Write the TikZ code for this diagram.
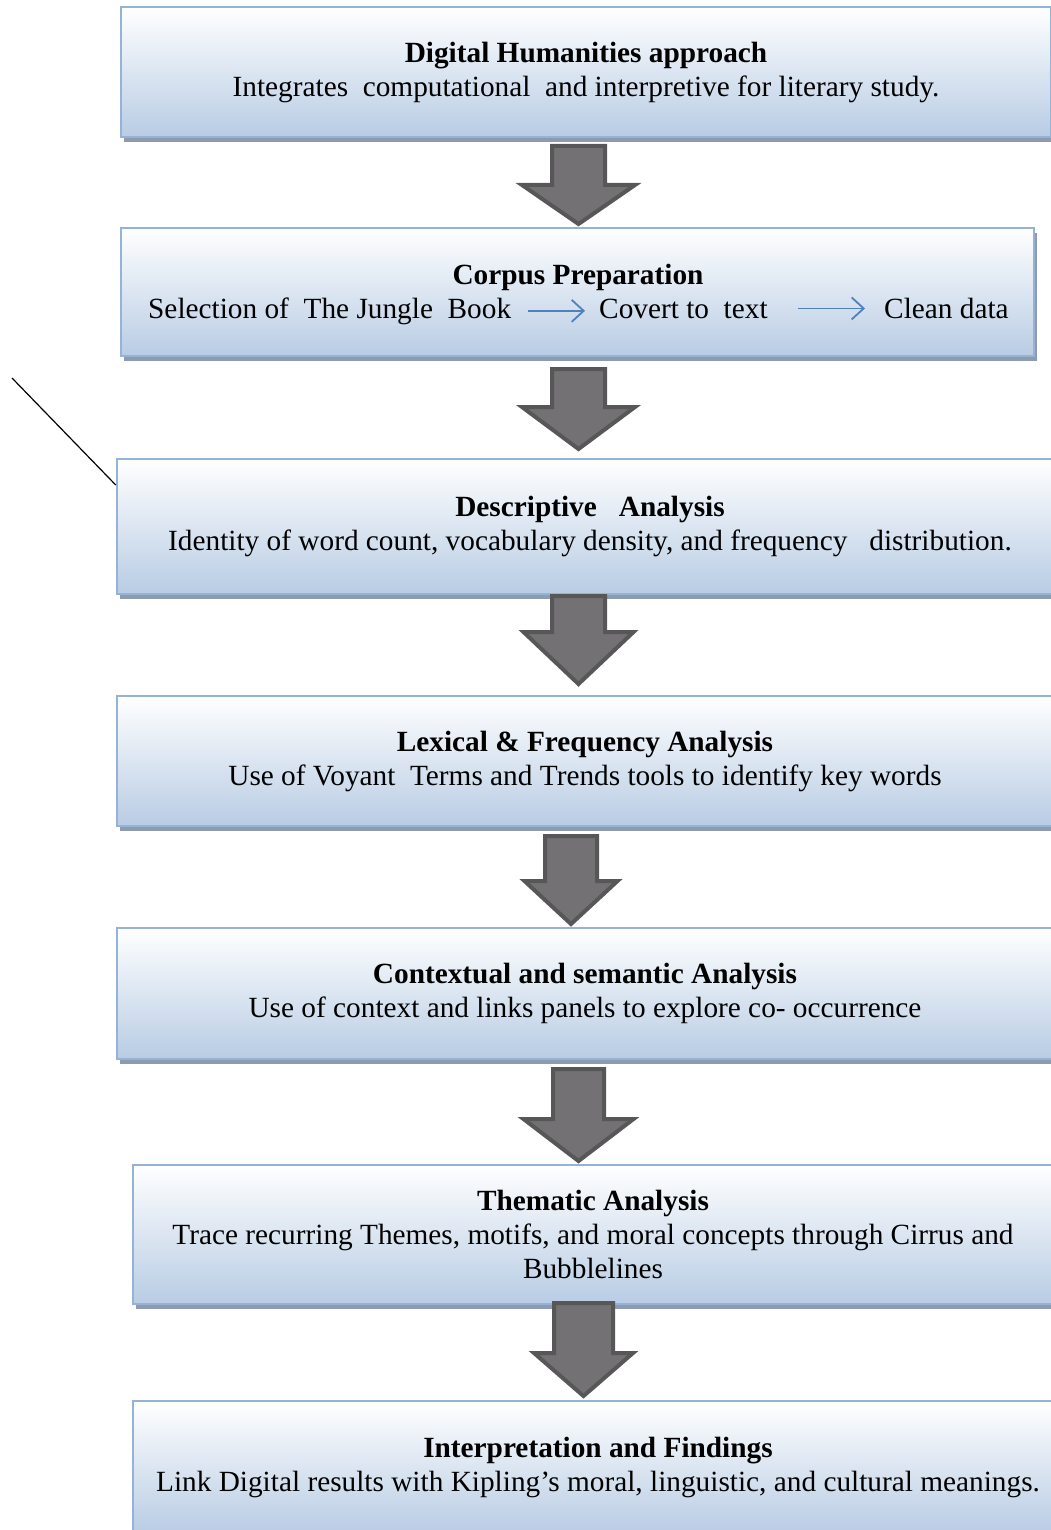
\documentclass[tikz,border=0pt]{standalone}
\usepackage{fontspec}
\setmainfont{Liberation Serif}
\usetikzlibrary{shadows,arrows.meta}

\definecolor{boxblue}{HTML}{B8CCE4}
\definecolor{boxedge}{HTML}{95B3D7}
\definecolor{shadowgray}{HTML}{8E9AAD}
\definecolor{arrowfill}{HTML}{747175}
\definecolor{arrowedge}{HTML}{575757}
\definecolor{linkblue}{HTML}{4F81BD}

% block arrow: centre x, top y, head y, tip y, half shaft, half head
\newcommand{\flowarrow}[6]{%
  \draw[bigarrow] (#1-#5,#2) -- (#1+#5,#2) -- (#1+#5,#3) -- (#1+#6,#3)
    -- (#1,#4) -- (#1-#6,#3) -- (#1-#5,#3) -- cycle;}

\begin{document}
\begin{tikzpicture}[x=1pt, y=-1pt,
    stepbox/.style={rectangle, draw=boxedge, line width=2.5pt,
      top color=white, bottom color=boxblue, inner sep=0pt, align=center,
      font=\fontsize{29.3}{34}\selectfont,
      drop shadow={shadow xshift=3pt, shadow yshift=-5pt, fill=shadowgray, opacity=1}},
    plain/.style={inner sep=0pt, font=\fontsize{29.3}{34}\selectfont},
    bigarrow/.style={draw=arrowedge, fill=arrowfill, line width=4pt, line join=miter},
    linkarrow/.style={draw=linkblue, line width=1.8pt, -{Straight Barb[length=12pt, width=22pt]}}]

    \useasboundingbox (0,0) rectangle (1051,1530);
    \clip (0,0) rectangle (1051,1530);

    \node[stepbox, minimum width=930pt, minimum height=130pt] (dh) at (586,72)
        {\textbf{Digital Humanities approach}\\
         Integrates\ \ computational\ \ and interpretive for literary study.};

    \node[stepbox, minimum width=913pt, minimum height=128pt] (prep) at (577.5,292) {};
    \node[plain, font=\fontsize{29.3}{34}\selectfont\bfseries, anchor=base] (prept) at (578,284) {Corpus Preparation};
    \node[plain, anchor=base west] (sel) at (148,318) {Selection of\ \ The Jungle\ \ Book};
    \node[plain, anchor=base west] (conv) at (599,318) {Covert to\ \ text};
    \node[plain, anchor=base west] (clean) at (884,318) {Clean data};
    \draw[linkarrow, shorten <=17pt, shorten >=14pt] (sel.east) -- (sel.east -| conv.west);
    \draw[linkarrow, shorten <=30pt, shorten >=19pt] (conv.east) -- (conv.east -| clean.west);

    \node[stepbox, minimum width=946pt, minimum height=135pt] (desc) at (590,526.5)
        {\textbf{Descriptive\ \ \ Analysis}\\
         Identity of word count, vocabulary density, and frequency\ \ \ distribution.};

    \node[stepbox, minimum width=936pt, minimum height=130pt] (lex) at (585,761)
        {\textbf{Lexical \& Frequency Analysis}\\
         Use of Voyant\ \ Terms and Trends tools to identify key words};

    \node[stepbox, minimum width=936pt, minimum height=131pt] (ctx) at (585,993.5)
        {\textbf{Contextual and semantic Analysis}\\
         Use of context and links panels to explore co- occurrence};

    \node[stepbox, minimum width=920pt, minimum height=139pt] (them) at (593,1234.5)
        {\textbf{Thematic Analysis}\\
         Trace recurring Themes, motifs, and moral concepts through Cirrus and\\
         Bubblelines};

    \node[stepbox, minimum width=930pt, minimum height=132pt] (interp) at (598,1467)
        {\textbf{Interpretation and Findings}\\
         Link Digital results with Kipling’s moral, linguistic, and cultural meanings.};

    % arrows between the steps
    \flowarrow{578.5}{146}{185}{224}{26.5}{56.5}
    \flowarrow{578.5}{369}{407}{449}{26.5}{56.5}
    \flowarrow{578.5}{596}{632}{684}{26.5}{55}
    \flowarrow{571}{836}{881}{924}{26}{46.5}
    \flowarrow{578.5}{1069}{1119}{1161}{25.5}{55}
    \flowarrow{583.5}{1303}{1353}{1396}{29.5}{49.5}

    \coordinate (loose) at (12,378);
    \draw[line width=1.2pt] (loose) -- ([yshift=41.5pt]desc.west);

\end{tikzpicture}
\end{document}
